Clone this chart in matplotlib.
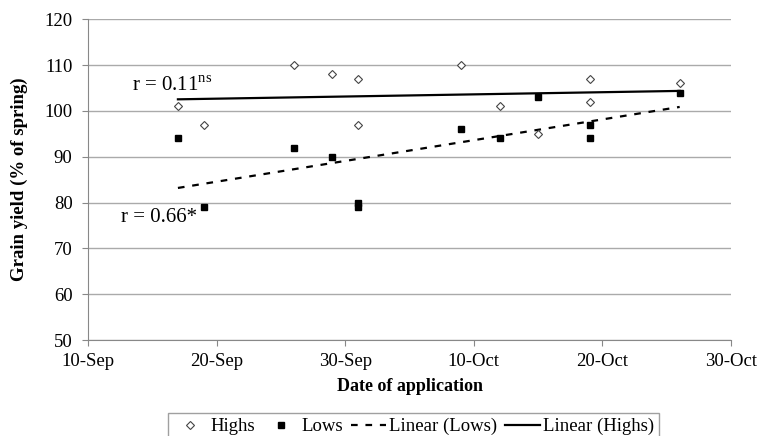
import numpy as np
import matplotlib
matplotlib.use('Agg')
import matplotlib.pyplot as plt
import matplotlib.dates as mdates

plt.rcParams['font.family'] = ['Liberation Serif', 'DejaVu Serif']
plt.rcParams['mathtext.fontset'] = 'custom'
plt.rcParams['mathtext.rm'] = 'Liberation Serif'

# application dates
dates = ['2009-09-17', '2009-09-19', '2009-09-26', '2009-09-29', '2009-10-01',
         '2009-10-01', '2009-10-09', '2009-10-12', '2009-10-15', '2009-10-19',
         '2009-10-19', '2009-10-26']
highs = [101, 97, 110, 108, 107, 97, 110, 101, 95, 107, 102, 106]
lows = [94, 79, 92, 90, 80, 79, 96, 94, 103, 97, 94, 104]
xtick_dates = ['2009-09-10', '2009-09-20', '2009-09-30', '2009-10-10',
               '2009-10-20', '2009-10-30']

x = mdates.datestr2num(dates)
xt = mdates.datestr2num(xtick_dates)

fig = plt.figure(figsize=(7.64, 4.36), dpi=100)
ax = fig.add_axes([0.115, 0.22, 0.842, 0.736])

ax.plot(x, highs, linestyle='none', marker='D', markersize=3.8,
        markerfacecolor='white', markeredgecolor='#444444', markeredgewidth=0.8,
        label='Highs', zorder=4)
ax.plot(x, lows, linestyle='none', marker='s', markersize=5,
        color='black', label='Lows', zorder=4)

# linear trendlines, from first to last date
xx = np.array([x.min(), x.max()])
bl = np.polyfit(x, lows, 1)
bh = np.polyfit(x, highs, 1)
ax.plot(xx, np.polyval(bl, xx), color='black', linestyle=(0, (3, 3.5)),
        linewidth=1.6, label='Linear (Lows)', zorder=3)
ax.plot(xx, np.polyval(bh, xx), color='black', linewidth=1.6,
        label='Linear (Highs)', zorder=3)

ax.text(mdates.datestr2num('2009-09-13') + 0.4, 104.3, r'r = 0.11$^{\rm ns}$',
        fontsize=15)
ax.text(mdates.datestr2num('2009-09-12') + 0.6, 75.8, 'r = 0.66*', fontsize=15)

ax.set_xlim(xt[0], xt[-1])
ax.set_ylim(50, 120)
ax.set_xticks(xt)
ax.xaxis.set_major_formatter(mdates.DateFormatter('%-d-%b'))
ax.set_yticks(range(50, 121, 10))
ax.yaxis.grid(True, color='#aaaaaa', linewidth=1)
ax.set_axisbelow(True)
for s in ['top', 'right']:
    ax.spines[s].set_visible(False)
for s in ['left', 'bottom']:
    ax.spines[s].set_color('#888888')
ax.tick_params(colors='#888888', labelcolor='black', labelsize=13.5, length=4)
ax.tick_params(axis='x', pad=5)
ax.tick_params(axis='y', pad=7)

ax.set_xlabel('Date of application', fontsize=13, fontweight='bold', labelpad=6)
ax.set_ylabel('Grain yield (% of spring)', fontsize=13.5, fontweight='bold',
              labelpad=12)

leg = fig.legend(loc='upper center', bbox_to_anchor=(0.541, 0.052), ncol=4,
                 frameon=True, fancybox=False, edgecolor='#888888',
                 fontsize=13.5, handlelength=1.9, handletextpad=0.15,
                 columnspacing=0.4, borderpad=0.25, borderaxespad=0)
leg.get_frame().set_linewidth(1)

fig.savefig('out.png', dpi=100)
